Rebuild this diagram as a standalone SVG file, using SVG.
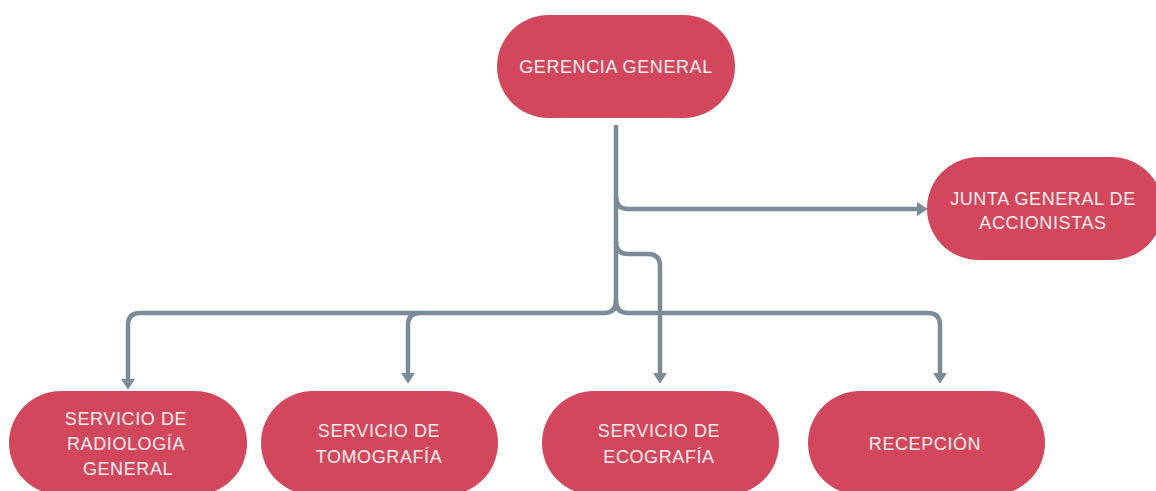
<svg xmlns="http://www.w3.org/2000/svg" width="1156" height="491" viewBox="0 0 1156 491">
<style>
.node{fill:#d3475c}
.lbl{font-family:"Liberation Sans",Arial,sans-serif;font-size:18px;fill:#fbeef0;text-anchor:middle;letter-spacing:0.6px}
.con{fill:none;stroke:#7b8b98;stroke-width:4.5;stroke-linecap:butt}
</style>
<defs>
<marker id="arr" markerUnits="userSpaceOnUse" markerWidth="14" markerHeight="14" viewBox="0 0 10 13" refX="0" refY="6.5" orient="auto">
<path d="M0,0 L10,6.5 L0,13 z" fill="#7b8b98"/>
</marker>
</defs>
<rect width="1156" height="491" fill="#ffffff"/>
<g id="connectors">
<path class="con" d="M616,125 V197 Q616,209 628,209 H917" marker-end="url(#arr)"/>
<path class="con" d="M616,196 V242 Q616,254 628,254 H648 Q660,254 660,266 V373" marker-end="url(#arr)"/>
<path class="con" d="M616,241 V301 Q616,313 604,313 H140 Q128,313 128,325 V379" marker-end="url(#arr)"/>
<path class="con" d="M420,313 Q408,313 408,325 V373" marker-end="url(#arr)"/>
<path class="con" d="M616,300 V301 Q616,313 628,313 H928 Q940,313 940,325 V373" marker-end="url(#arr)"/>
</g>
<g id="gerencia">
<rect class="node" x="497" y="15" width="238" height="103" rx="51.5"/>
<text class="lbl" x="616" y="73">GERENCIA GENERAL</text>
</g>
<g id="junta">
<rect class="node" x="927" y="157" width="236" height="103" rx="51.5"/>
<text class="lbl" x="1043" y="205">JUNTA GENERAL DE</text>
<text class="lbl" x="1043" y="229">ACCIONISTAS</text>
</g>
<g id="radiologia">
<rect class="node" x="9" y="391" width="238" height="104" rx="52"/>
<text class="lbl" x="126" y="425">SERVICIO DE</text>
<text class="lbl" x="126" y="450">RADIOLOGÍA</text>
<text class="lbl" x="128" y="475">GENERAL</text>
</g>
<g id="tomografia">
<rect class="node" x="261" y="391" width="237" height="104" rx="52"/>
<text class="lbl" x="379" y="437">SERVICIO DE</text>
<text class="lbl" x="379" y="463">TOMOGRAFÍA</text>
</g>
<g id="ecografia">
<rect class="node" x="542" y="391" width="237" height="104" rx="52"/>
<text class="lbl" x="659" y="437">SERVICIO DE</text>
<text class="lbl" x="659" y="463">ECOGRAFÍA</text>
</g>
<g id="recepcion">
<rect class="node" x="808" y="391" width="237" height="104" rx="52"/>
<text class="lbl" x="925" y="450">RECEPCIÓN</text>
</g>
</svg>
